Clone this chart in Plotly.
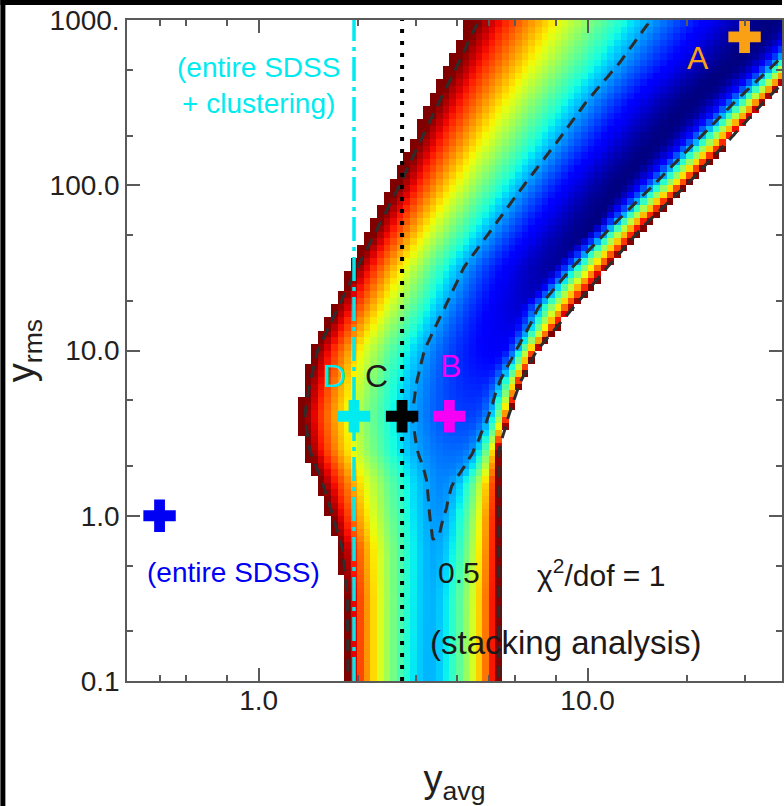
import numpy as np
import plotly.graph_objects as go

# ---------------------------------------------------------------------------
# chi^2/dof band in the (y_avg, y_rms) plane, described row by row:
# left edge (chi2/dof = 1), ridge position and minimum, right edge,
# and how fast chi2/dof climbs on each side of the ridge.
# ---------------------------------------------------------------------------
Y_LEVELS = [1000, 560, 320, 180, 100, 56, 32, 18, 10, 6.3, 4.0, 2.5, 1.6, 1.0, 0.63, 0.32, 0.1]
X_LEFT   = [4.67, 4.07, 3.54, 3.08, 2.68, 2.31, 2.00, 1.74, 1.51, 1.43, 1.38, 1.43, 1.56, 1.68, 1.80, 1.86, 1.87]
X_RIDGE  = [35.4, 27.7, 20.2, 15.9, 12.4, 10.4, 7.89, 6.27, 5.38, 4.67, 4.21, 3.79, 3.56, 3.49, 3.42, 3.34, 3.30]
X_RIGHT  = [59.7, 45.5, 34.4, 26.4, 19.95, 14.7, 11.5, 9.01, 7.01, 6.22, 5.76, 5.38, 5.38, 5.38, 5.38, 5.38, 5.38]
CHI_MIN  = [0.30, 0.30, 0.30, 0.30, 0.30, 0.30, 0.32, 0.35, 0.38, 0.41, 0.43, 0.46, 0.48, 0.49, 0.502, 0.51, 0.51]
SLOPE_L  = [1.39, 1.41, 1.40, 1.43, 1.49, 1.63, 1.70, 1.68, 1.85, 1.89, 1.87, 1.77, 1.48, 1.52, 1.55, 1.60, 1.60]
SLOPE_R  = [3.09, 2.62, 2.60, 2.17, 1.89, 1.25, 1.27, 1.31, 2.04, 2.62, 3.57, 3.76, 2.15, 1.84, 1.80, 1.70, 1.70]

CONTOUR_LEVELS = [0.5, 1.0]
CHI_CUT = 1.04   # cells drawn up to this value

# model points
POINT_NAMES = ["A", "B", "C", "D", "SDSS"]
POINT_X     = [30.0, 3.8, 2.73, 1.95, 0.5]
POINT_Y     = [790.0, 4.0, 4.0, 4.0, 1.0]
POINT_COLOR = ["rgb(250,160,20)", "rgb(245,0,245)", "black", "rgb(0,235,240)", "rgb(0,0,245)"]

# vertical constraints
X_CLUSTER = 1.95   # entire SDSS + clustering
X_STACK_C = 2.73   # through model C

# axes
X_TICKS = [1, 10]
X_TICKTEXT = ["1.0", "10.0"]
X_MINOR = [0.5, 0.6, 0.8, 2, 3, 4, 5, 6, 8, 20, 30]
Y_TICKS = [0.1, 1, 10, 100, 1000]
Y_TICKTEXT = ["0.1", "1.0", "10.0", "100.0", "1000."]
Y_MINOR = [0.2, 0.5, 2, 5, 20, 50, 200, 500]

FONT = "Liberation Sans, Arial, Helvetica, sans-serif"
AXIS_COLOR = "#5a5a5a"
TEXT_DARK = "rgb(30,25,25)"

# ---------------------------------------------------------------------------
# build the grid
# ---------------------------------------------------------------------------
NX, NY = 100, 100
lx_edges = np.linspace(-0.4, 1.6, NX + 1)
ly_edges = np.linspace(-1.0, 3.0, NY + 1)
lx_c = 0.5 * (lx_edges[:-1] + lx_edges[1:])
ly_c = 0.5 * (ly_edges[:-1] + ly_edges[1:])

lev = np.log10(Y_LEVELS)[::-1]


def per_row(values, log=True):
    v = np.log10(values) if log else np.asarray(values, float)
    return np.interp(ly_c, lev, v[::-1])


rL, rC, rR = per_row(X_LEFT), per_row(X_RIDGE), per_row(X_RIGHT)
rZ = per_row(CHI_MIN, log=False)
rPL, rPR = per_row(SLOPE_L, log=False), per_row(SLOPE_R, log=False)

LX = lx_c[None, :]
left = LX < rC[:, None]
t = np.where(left,
             (rC[:, None] - LX) / (rC - rL)[:, None],
             (LX - rC[:, None]) / (rR - rC)[:, None])
p = np.where(left, rPL[:, None], rPR[:, None])
chi = rZ[:, None] + (1.0 - rZ[:, None]) * np.power(np.clip(t, 0, None), p)

chi_shown = np.where(chi <= CHI_CUT, chi, np.nan)


# jet colour table
def jet(v):
    r = np.interp(v, [0, 0.35, 0.66, 0.89, 1.0], [0, 0, 1, 1, 0.5])
    g = np.interp(v, [0, 0.125, 0.375, 0.64, 0.91, 1.0], [0, 0, 1, 1, 0, 0])
    b = np.interp(v, [0, 0.11, 0.34, 0.65, 1.0], [0.5, 1, 1, 0, 0])
    return "rgb(%d,%d,%d)" % (round(r * 255), round(g * 255), round(b * 255))


stops = np.linspace(0, 1, 41)
colorscale = [[float(s), jet(s)] for s in stops]

fig = go.Figure()

fig.add_trace(go.Heatmap(
    x=10 ** lx_edges, y=10 ** ly_edges, z=chi_shown,
    colorscale=colorscale, zmin=0.3, zmax=1.0, showscale=False,
    hoverinfo="skip", zsmooth=False,
))

fig.add_trace(go.Contour(
    x=10 ** lx_c, y=10 ** ly_c, z=chi,
    autocontour=False,
    contours=dict(start=CONTOUR_LEVELS[0], end=CONTOUR_LEVELS[-1],
                  size=CONTOUR_LEVELS[1] - CONTOUR_LEVELS[0], coloring="none"),
    line=dict(color="rgb(45,45,45)", width=3, dash="12px,8px", smoothing=1),
    showscale=False, hoverinfo="skip",
))

# vertical lines
fig.add_trace(go.Scatter(
    x=[X_CLUSTER, X_CLUSTER], y=[0.1, 1000], mode="lines",
    line=dict(color="rgb(0,235,240)", width=3.5, dash="24px,6px,4px,6px"),
    hoverinfo="skip",
))
fig.add_trace(go.Scatter(
    x=[X_STACK_C, X_STACK_C], y=[0.1, 1000], mode="lines",
    line=dict(color="black", width=4, dash="4px,8px"),
    hoverinfo="skip",
))

# model crosses
fig.add_trace(go.Scatter(
    x=POINT_X, y=POINT_Y, mode="markers",
    marker=dict(symbol="cross", size=27, color=POINT_COLOR, line=dict(width=0)),
    cliponaxis=False, hoverinfo="skip",
))


def lab(text, x, y, color, size):
    fig.add_annotation(x=np.log10(x), y=np.log10(y), xref="x", yref="y",
                       text=text, showarrow=False, xanchor="center", yanchor="middle",
                       font=dict(family=FONT, size=size, color=color))


lab("A", 21.7, 590, POINT_COLOR[0], 32)
lab("B", 3.82, 8.1, POINT_COLOR[1], 32)
lab("C", 2.29, 7.0, TEXT_DARK, 32)
lab("D", 1.70, 7.0, POINT_COLOR[3], 32)
lab("(entire SDSS)", 0.84, 0.452, POINT_COLOR[4], 28)
lab("(entire SDSS<br>+ clustering)", 1.0, 400, POINT_COLOR[3], 28)
lab("0.5", 4.07, 0.452, TEXT_DARK, 30)
lab("χ<sup>2</sup>/dof = 1", 11.0, 0.452, TEXT_DARK, 30)
lab("(stacking analysis)", 8.58, 0.170, TEXT_DARK, 33)

axis_common = dict(
    type="log", showgrid=False, zeroline=False,
    showline=True, linecolor=AXIS_COLOR, linewidth=1.5, mirror="ticks",
    ticks="inside", ticklen=13, tickwidth=1.5, tickcolor=AXIS_COLOR,
    tickmode="array", tickfont=dict(family=FONT, size=28, color="#231f20"),
    title_font=dict(family=FONT, size=38, color="#231f20"),
)

fig.update_xaxes(
    **axis_common, range=[-0.4, 1.5909],
    tickvals=X_TICKS, ticktext=X_TICKTEXT, ticklabelstandoff=-6,
    minor=dict(tickmode="array", tickvals=X_MINOR, ticks="inside", ticklen=6,
               tickwidth=1.5, tickcolor=AXIS_COLOR, showgrid=False),
    title_text="y<sub>avg</sub>", title_standoff=50,
)
fig.update_yaxes(
    **axis_common, range=[-1, 3],
    tickvals=Y_TICKS, ticktext=Y_TICKTEXT, ticklabelstandoff=0,
    minor=dict(tickmode="array", tickvals=Y_MINOR, ticks="inside", ticklen=6,
               tickwidth=1.5, tickcolor=AXIS_COLOR, showgrid=False),
    title_text="y<sub>rms</sub>", title_standoff=18,
)

# black frame strips along the left and top edges of the page
fig.add_shape(type="rect", xref="paper", yref="paper",
              x0=-127 / 657, x1=-122 / 657, y0=-125 / 661, y1=681 / 661,
              fillcolor="black", line_width=0, layer="below")
fig.add_shape(type="rect", xref="paper", yref="paper",
              x0=-127 / 657, x1=1.0, y0=676 / 661, y1=681 / 661,
              fillcolor="black", line_width=0, layer="below")

fig.update_layout(
    width=784, height=806,
    margin=dict(l=127, r=0, t=20, b=125),
    paper_bgcolor="white", plot_bgcolor="white",
    showlegend=False,
)

# keep the page exactly the size of the figure (no scrollbars)
page_css = ("document.documentElement.style.overflow='hidden';"
            "document.body.style.overflow='hidden';"
            "document.body.style.margin='0';")

fig.write_html("out.html", post_script=page_css)
